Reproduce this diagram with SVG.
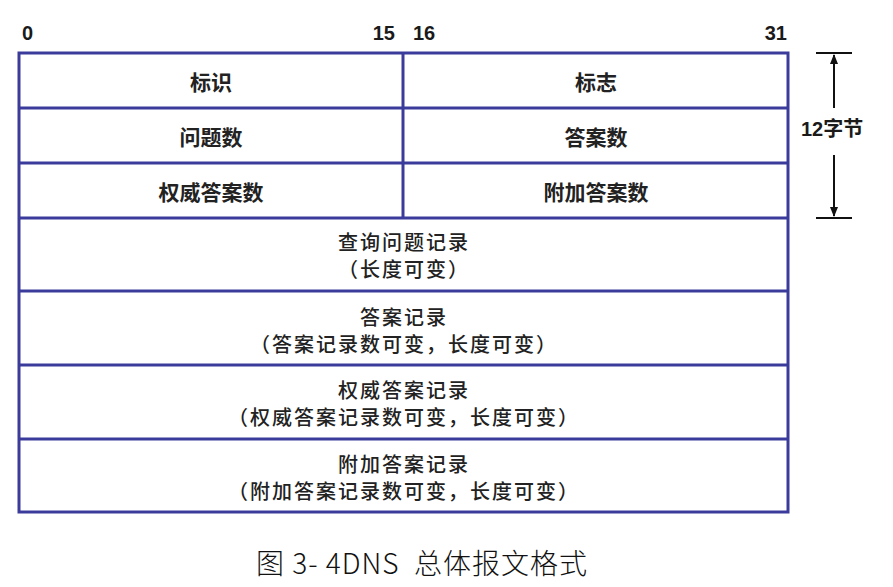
<svg xmlns="http://www.w3.org/2000/svg" width="893" height="587" viewBox="0 0 893 587">
<style>
.box{fill:none;stroke:#3b3b9c;stroke-width:3}
.ln{stroke:#3b3b9c;stroke-width:3}
.num{font-family:"Liberation Sans",Arial,sans-serif;font-weight:bold;font-size:20px;fill:#1a1a1a}
.h{font-family:"Noto Sans CJK SC",sans-serif;font-weight:bold;font-size:21px;fill:#222;text-anchor:middle}
.r{font-family:"Noto Sans CJK SC",sans-serif;font-weight:500;font-size:20px;letter-spacing:2px;fill:#222;text-anchor:middle}
.cap{font-family:"Noto Sans CJK SC",sans-serif;font-weight:300;font-size:28px;letter-spacing:1px;fill:#111;text-anchor:middle}
.dim{stroke:#111;stroke-width:2;fill:none}
</style>
<defs>
<marker id="ah" viewBox="0 0 10 10" refX="9" refY="5" markerWidth="5" markerHeight="5" orient="auto">
<path d="M0,1 L10,5 L0,9 Z" fill="#111"/>
</marker>
</defs>
<rect width="893" height="587" fill="#fff"/>
<g id="bits">
<text class="num" x="22" y="40">0</text>
<text class="num" x="395" y="40" text-anchor="end">15</text>
<text class="num" x="413" y="40">16</text>
<text class="num" x="787" y="40" text-anchor="end">31</text>
</g>
<g id="frame">
<rect class="box" x="19" y="53" width="769" height="459"/>
<line class="ln" x1="403" y1="53" x2="403" y2="218"/>
<line class="ln" x1="19" y1="108" x2="788" y2="108"/>
<line class="ln" x1="19" y1="163" x2="788" y2="163"/>
<line class="ln" x1="19" y1="218" x2="788" y2="218"/>
<line class="ln" x1="19" y1="291" x2="788" y2="291"/>
<line class="ln" x1="19" y1="365" x2="788" y2="365"/>
<line class="ln" x1="19" y1="439" x2="788" y2="439"/>
</g>
<g id="n-id"><text class="h" x="211" y="90">标识</text></g>
<g id="n-flag"><text class="h" x="596" y="90">标志</text></g>
<g id="n-qcount"><text class="h" x="211" y="145">问题数</text></g>
<g id="n-acount"><text class="h" x="596" y="145">答案数</text></g>
<g id="n-authcount"><text class="h" x="211" y="200">权威答案数</text></g>
<g id="n-addcount"><text class="h" x="596" y="200">附加答案数</text></g>
<g id="n-query">
<text class="r" x="404" y="250">查询问题记录</text>
<text class="r" x="404" y="277">（长度可变）</text>
</g>
<g id="n-answer">
<text class="r" x="404" y="325">答案记录</text>
<text class="r" x="404" y="352">（答案记录数可变，长度可变）</text>
</g>
<g id="n-auth">
<text class="r" x="404" y="398">权威答案记录</text>
<text class="r" x="404" y="425">（权威答案记录数可变，长度可变）</text>
</g>
<g id="n-add">
<text class="r" x="404" y="472">附加答案记录</text>
<text class="r" x="404" y="499">（附加答案记录数可变，长度可变）</text>
</g>
<g id="connectors">
<line class="dim" x1="816" y1="53" x2="852" y2="53"/>
<line class="dim" x1="816" y1="218" x2="852" y2="218"/>
<line class="dim" x1="834" y1="108" x2="834" y2="55" marker-end="url(#ah)"/>
<line class="dim" x1="834" y1="155" x2="834" y2="216" marker-end="url(#ah)"/>
</g>
<g id="n-size"><text class="num" x="801" y="136" font-size="20">12<tspan font-family="Noto Sans CJK SC,sans-serif">字节</tspan></text></g>
<g id="caption"><text class="cap" x="422" y="574" xml:space="preserve">图 3- 4DNS  总体报文格式</text></g>
</svg>
